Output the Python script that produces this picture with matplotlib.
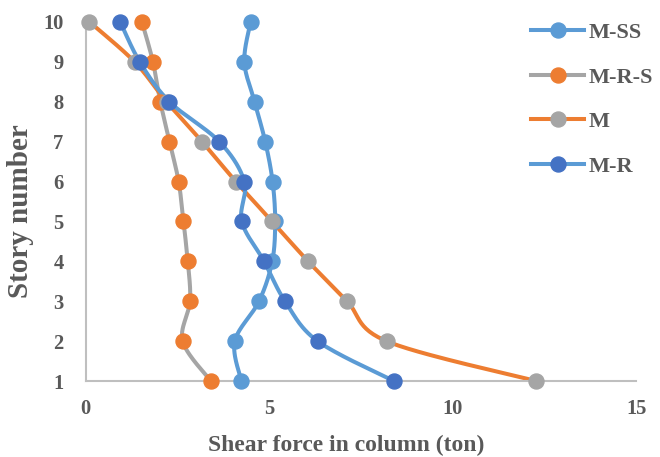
import numpy as np
import matplotlib.pyplot as plt
from matplotlib.lines import Line2D

# 层号与各模型柱剪力 (ton)
stories = [1, 2, 3, 4, 5, 6, 7, 8, 9, 10]
m_ss = [4.24, 4.06, 4.72, 5.08, 5.16, 5.09, 4.89, 4.60, 4.32, 4.49]
m_r_s = [3.41, 2.64, 2.84, 2.78, 2.66, 2.53, 2.28, 2.03, 1.83, 1.53]
m = [12.28, 8.20, 7.12, 6.06, 5.08, 4.09, 3.17, 2.20, 1.33, 0.10]
m_r = [8.40, 6.32, 5.43, 4.86, 4.25, 4.32, 3.64, 2.28, 1.47, 0.94]
labels = ['M-SS', 'M-R-S', 'M', 'M-R']

line_colors = ['#5B9BD5', '#A5A5A5', '#ED7D31', '#5B9BD5']
marker_colors = ['#5B9BD5', '#ED7D31', '#A5A5A5', '#4472C4']
text_color = '#595959'
lw = 2.9
ms = 10.8

plt.rcParams['font.family'] = ['Liberation Serif', 'DejaVu Serif']
plt.rcParams['font.weight'] = 'bold'


def smooth(xs, ys, sx, sy, n=30):
    # 类似Excel平滑线：Catmull-Rom 样条（在归一化坐标中计算）
    p = np.column_stack([np.asarray(xs) / sx, np.asarray(ys) / sy])
    p = np.vstack([p[0], p, p[-1]])
    out = []
    t = np.linspace(0, 1, n)[:, None]
    for i in range(1, len(p) - 2):
        p0, p1, p2, p3 = p[i - 1], p[i], p[i + 1], p[i + 2]
        c1 = p1 + (p2 - p0) / 6
        c2 = p2 - (p3 - p1) / 6
        seg = ((1 - t) ** 3) * p1 + 3 * ((1 - t) ** 2) * t * c1 + 3 * (1 - t) * t ** 2 * c2 + t ** 3 * p2
        out.append(seg if i == 1 else seg[1:])
    out = np.vstack(out)
    return out[:, 0] * sx, out[:, 1] * sy


fig = plt.figure(figsize=(6.6, 4.57), dpi=100)
ax = fig.add_axes([0.130, 0.166, 0.834, 0.786])

for vals, lc, mc in zip([m_ss, m_r_s, m, m_r], line_colors, marker_colors):
    sx_, sy_ = smooth(vals, stories, 15 / 0.834, 9 / 0.786 * 457 / 660)
    ax.plot(sx_, sy_, color=lc, lw=lw, clip_on=False, zorder=2, solid_capstyle='round')
    ax.plot(vals, stories, 'o', color=mc, ms=ms, mec=mc, clip_on=False, zorder=3)

ax.set_xlim(0, 15)
ax.set_ylim(1, 10)
ax.set_xticks([0, 5, 10, 15])
ax.set_yticks(stories)
for s in ['top', 'right']:
    ax.spines[s].set_visible(False)
for s in ['left', 'bottom']:
    ax.spines[s].set_color('#BFBFBF')
    ax.spines[s].set_linewidth(1.5)
ax.tick_params(length=0, labelsize=14.8, labelcolor=text_color)
ax.tick_params(axis='x', pad=13)
ax.tick_params(axis='y', pad=16)
for t in ax.get_xticklabels() + ax.get_yticklabels():
    t.set_fontweight('bold')

# 轴标题
fig.text(346 / 660, 6 / 457, 'Shear force in column (ton)', fontsize=17, fontweight='bold',
         color=text_color, ha='center', va='baseline')
fig.text(21 / 660, 1 - 211 / 457, 'Story number', fontsize=21, fontweight='bold',
         color=text_color, ha='center', va='center', rotation=90)

handles = [Line2D([0], [0], color=lc, lw=lw, marker='o', ms=ms, mfc=mc, mec=mc)
           for lc, mc in zip(line_colors, marker_colors)]
leg = fig.legend(handles, labels, loc='upper left', bbox_to_anchor=(0.791, 0.970),
                 frameon=False, fontsize=16, handlelength=2.39, labelspacing=1.08,
                 handletextpad=0.22, borderaxespad=0)
for t in leg.get_texts():
    t.set_color(text_color)
    t.set_fontweight('bold')

fig.savefig('out.png', dpi=100)
